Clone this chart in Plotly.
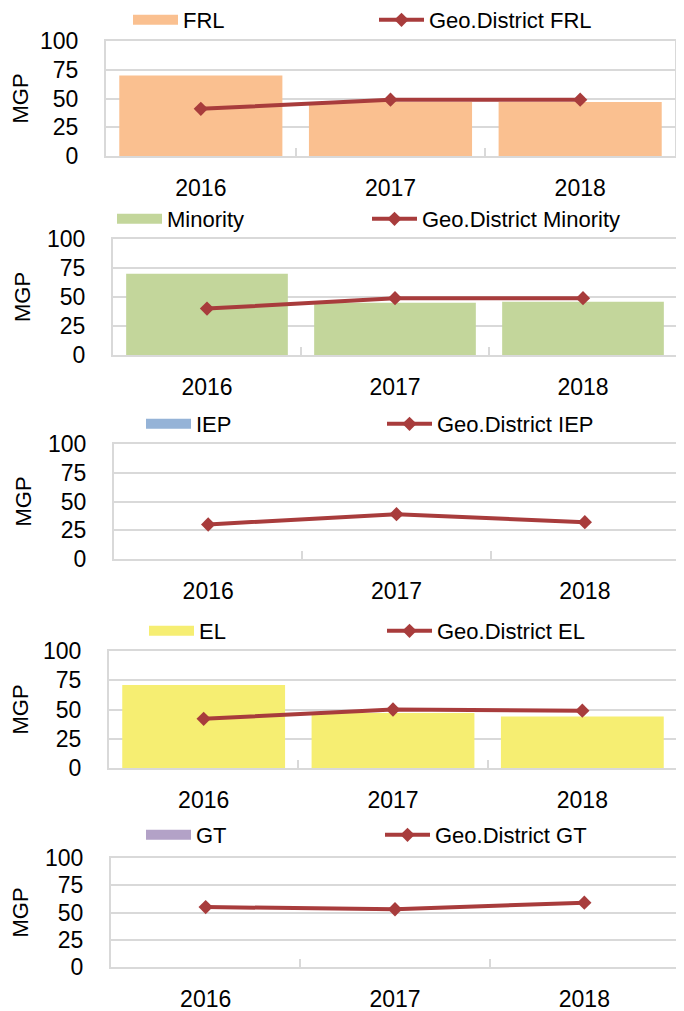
import plotly.graph_objects as go

years = ['2016', '2017', '2018']

frl = [70, 47, 47]
geo_frl = [41, 49, 49]
minority = [70, 45, 46]
geo_minority = [40, 49, 49]
iep = [None, None, None]
geo_iep = [30, 39, 32]
el = [71, 47, 44]
geo_el = [42, 50, 49]
gt = [None, None, None]
geo_gt = [55, 53, 59]

groups = ['FRL', 'Minority', 'IEP', 'EL', 'GT']
group_vals = [frl, minority, iep, el, gt]
geo_vals = [geo_frl, geo_minority, geo_iep, geo_el, geo_gt]
bar_colors = ['#FAC090', '#C3D69B', '#95B3D7', '#F6EE72', '#B3A2C7']
line_color = '#A83C3C'

W, H = 684, 1011
OFF = 8  # default page margin around the plot div
FONT = 'Liberation Sans, Arial, sans-serif'

# plot areas in page px: left, right, top, bottom
boxes = [(106, 675, 41, 156), (113, 677, 239, 355), (114, 679, 444, 559),
         (109, 677, 651, 768), (111, 679, 858, 967)]
# legend left x / centre y in page px, and entry width
legend_xy = [(128, 20), (112, 219), (141, 424), (144, 631), (141, 835)]
entry_w = [186, 195, 181, 178, 179]


def px_x(p):
    return (p - OFF) / W


def px_y(p):
    return 1 - (p - OFF) / H


fig = go.Figure()
layout = dict(
    width=W, height=H,
    margin=dict(l=0, r=0, t=0, b=0, autoexpand=False),
    paper_bgcolor='white', plot_bgcolor='white',
    font=dict(family=FONT, size=22, color='black'),
    bargap=0.14,
)

for i, name in enumerate(groups):
    n = '' if i == 0 else str(i + 1)
    leg = 'legend' + n
    # legend entry drawn as a wide swatch, like the Excel legend key
    fig.add_trace(go.Scatter(
        x=[None], y=[None], name=name, mode='lines',
        line=dict(color=bar_colors[i], width=13),
        xaxis='x' + n, yaxis='y' + n, legend=leg, hoverinfo='skip',
    ))
    fig.add_trace(go.Bar(
        x=years, y=group_vals[i], name=name, showlegend=False,
        marker=dict(color=bar_colors[i], line=dict(width=0)),
        xaxis='x' + n, yaxis='y' + n,
    ))
    fig.add_trace(go.Scatter(
        x=years, y=geo_vals[i], name='Geo.District ' + name,
        mode='lines+markers',
        line=dict(color=line_color, width=4),
        marker=dict(symbol='diamond', size=11, color=line_color),
        xaxis='x' + n, yaxis='y' + n, legend=leg,
    ))

    l, r, t, b = boxes[i]
    layout['xaxis' + n] = dict(
        domain=[px_x(l), px_x(r)], anchor='y' + n,
        type='category', tickson='boundaries',
        ticks='inside', ticklen=8, tickwidth=2, tickcolor='#D9D9D9',
        showline=True, linecolor='#D9D9D9', linewidth=2, mirror=True,
        showgrid=False, ticklabelstandoff=10,
        tickfont=dict(size=23),
    )
    layout['yaxis' + n] = dict(
        domain=[px_y(b), px_y(t)], anchor='x' + n,
        range=[0, 100], tickvals=[0, 25, 50, 75, 100],
        showgrid=True, gridcolor='#D9D9D9', gridwidth=2,
        showline=True, linecolor='#D9D9D9', linewidth=2, mirror=True,
        zeroline=False, ticks='', ticklabelstandoff=21,
        title=dict(text='MGP', standoff=10, font=dict(size=22)),
        tickfont=dict(size=23),
    )
    lx, ly = legend_xy[i]
    layout[leg] = dict(
        orientation='h', x=px_x(lx), y=px_y(ly),
        xanchor='left', yanchor='middle',
        entrywidth=entry_w[i], entrywidthmode='pixels',
        itemwidth=45, bgcolor='rgba(0,0,0,0)',
        font=dict(size=22),
    )

fig.update_layout(**layout)
fig.write_html('out.html')
